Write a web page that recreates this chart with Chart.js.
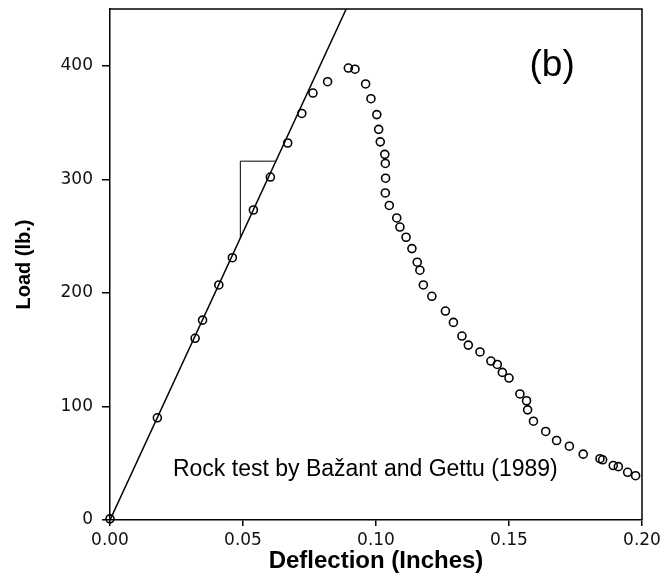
<!DOCTYPE html>
<html>
<head>
<meta charset="utf-8">
<script src="https://cdn.jsdelivr.net/npm/chart.js@4/dist/chart.umd.min.js"></script>
<style>
html,body{margin:0;padding:0;background:#fff;}
canvas{display:block;}
</style>
</head>
<body>
<canvas id="c" width="661" height="582"></canvas>
<script>
// Test data
const deflection = [0.0000,0.0178,0.0320,0.0348,0.0409,0.0460,0.0539,0.0603,0.0668,0.0721,0.0763,0.0818,0.0896,0.0921,0.0961,0.0981,0.1003,0.1010,0.1016,0.1033,0.1035,0.1036,0.1035,0.1050,0.1078,0.1090,0.1113,0.1135,0.1155,0.1165,0.1178,0.1210,0.1261,0.1291,0.1323,0.1347,0.1391,0.1432,0.1456,0.1475,0.1500,0.1541,0.1566,0.1570,0.1592,0.1638,0.1679,0.1727,0.1779,0.1842,0.1852,0.1892,0.1911,0.1946,0.1976];
const load = [1,90,160,176,207,231,273,302,332,358,376,386,398,397,384,371,357,344,333,322,314,301,288,277,266,258,249,239,227,220,207,197,184,174,162,154,148,140,137,130,125,111,105,97,87,78,70,65,58,54,53,48,47,42,39];
// Elastic (initial slope) line
const slopeLineX = [0, 0.0888];
const slopeLineY = [0, 450];
// Slope triangle
const triangleX = [0.049, 0.049, 0.0623];
const triangleY = [248.4, 316, 316];
// Axis ticks
const xTicks = [0, 0.05, 0.10, 0.15, 0.20];
const yTicks = [0, 100, 200, 300, 400];
const xLabels = ['0.00','0.05','0.10','0.15','0.20'];
const yLabels = ['0','100','200','300','400'];
// Annotations
const panelLabel = {text: '(b)', x: 0.1662, y: 400};
const noteLabel = {text: 'Rock test by Bažant and Gettu (1989)', x: 0.0960, y: 44};

const pts = (xs, ys) => xs.map((x, i) => ({x: x, y: ys[i]}));

const framePlugin = {
  id: 'frame',
  afterDatasetsDraw(chart) {
    const {ctx, chartArea: a, scales} = chart;
    ctx.save();
    ctx.strokeStyle = '#000';
    ctx.lineWidth = 1.5;
    ctx.beginPath();
    ctx.moveTo(a.left, a.top);
    ctx.lineTo(a.right, a.top);
    ctx.lineTo(a.right, a.bottom);
    ctx.stroke();
    ctx.fillStyle = '#000';
    ctx.textAlign = 'center';
    ctx.textBaseline = 'middle';
    ctx.font = '37px "Liberation Sans", Arial, sans-serif';
    ctx.fillText(panelLabel.text, scales.x.getPixelForValue(panelLabel.x), scales.y.getPixelForValue(panelLabel.y));
    ctx.font = '23px "Liberation Sans", Arial, sans-serif';
    ctx.fillText(noteLabel.text, scales.x.getPixelForValue(noteLabel.x), scales.y.getPixelForValue(noteLabel.y));
    ctx.restore();
  }
};

new Chart(document.getElementById('c'), {
  type: 'scatter',
  data: {
    datasets: [
      {
        data: pts(slopeLineX, slopeLineY),
        showLine: true, borderColor: '#000', borderWidth: 1.5,
        pointRadius: 0, fill: false
      },
      {
        data: pts(triangleX, triangleY),
        showLine: true, borderColor: '#000', borderWidth: 1,
        pointRadius: 0, fill: false
      },
      {
        data: pts(deflection, load),
        showLine: false,
        pointStyle: 'circle', pointRadius: 4,
        pointBorderWidth: 1.6, pointBorderColor: '#000',
        pointBackgroundColor: 'rgba(255,255,255,0)',
        clip: false
      }
    ]
  },
  options: {
    responsive: false,
    animation: false,
    devicePixelRatio: 1,
    layout: {padding: {top: 9, right: 19, left: 0, bottom: 0}},
    plugins: {legend: {display: false}, tooltip: {enabled: false}},
    scales: {
      x: {
        type: 'linear', min: 0, max: 0.2,
        afterBuildTicks: s => { s.ticks = xTicks.map(v => ({value: v})); },
        afterFit: s => { s.height = 62; s.paddingLeft = 0; s.paddingRight = 0; },
        ticks: {
          callback: (v, i) => xLabels[i],
          font: {family: '"DejaVu Sans", sans-serif', size: 17},
          color: '#111', padding: 4, maxRotation: 0, autoSkip: false
        },
        grid: {drawOnChartArea: false, drawTicks: true, tickLength: 6, color: '#000', lineWidth: 1.5},
        border: {display: true, color: '#000', width: 1.5},
        title: {
          display: true, text: 'Deflection (Inches)', color: '#000',
          font: {family: '"Liberation Sans", Arial, sans-serif', size: 24, weight: 'bold'},
          padding: {top: 0, bottom: 6}
        }
      },
      y: {
        type: 'linear', min: 0, max: 450,
        afterBuildTicks: s => { s.ticks = yTicks.map(v => ({value: v})); },
        afterFit: s => { s.width = 110; s.paddingTop = 0; s.paddingBottom = 0; },
        ticks: {
          callback: (v, i) => yLabels[i],
          font: {family: '"DejaVu Sans", sans-serif', size: 17},
          color: '#111', padding: 9, autoSkip: false
        },
        grid: {drawOnChartArea: false, drawTicks: true, tickLength: 8, color: '#000', lineWidth: 1.5},
        border: {display: true, color: '#000', width: 1.5},
        title: {
          display: true, text: 'Load (lb.)', color: '#000',
          font: {family: '"Liberation Sans", Arial, sans-serif', size: 20, weight: 'bold'},
          padding: {top: 12, bottom: 0}
        }
      }
    }
  },
  plugins: [framePlugin]
});
</script>
</body>
</html>
